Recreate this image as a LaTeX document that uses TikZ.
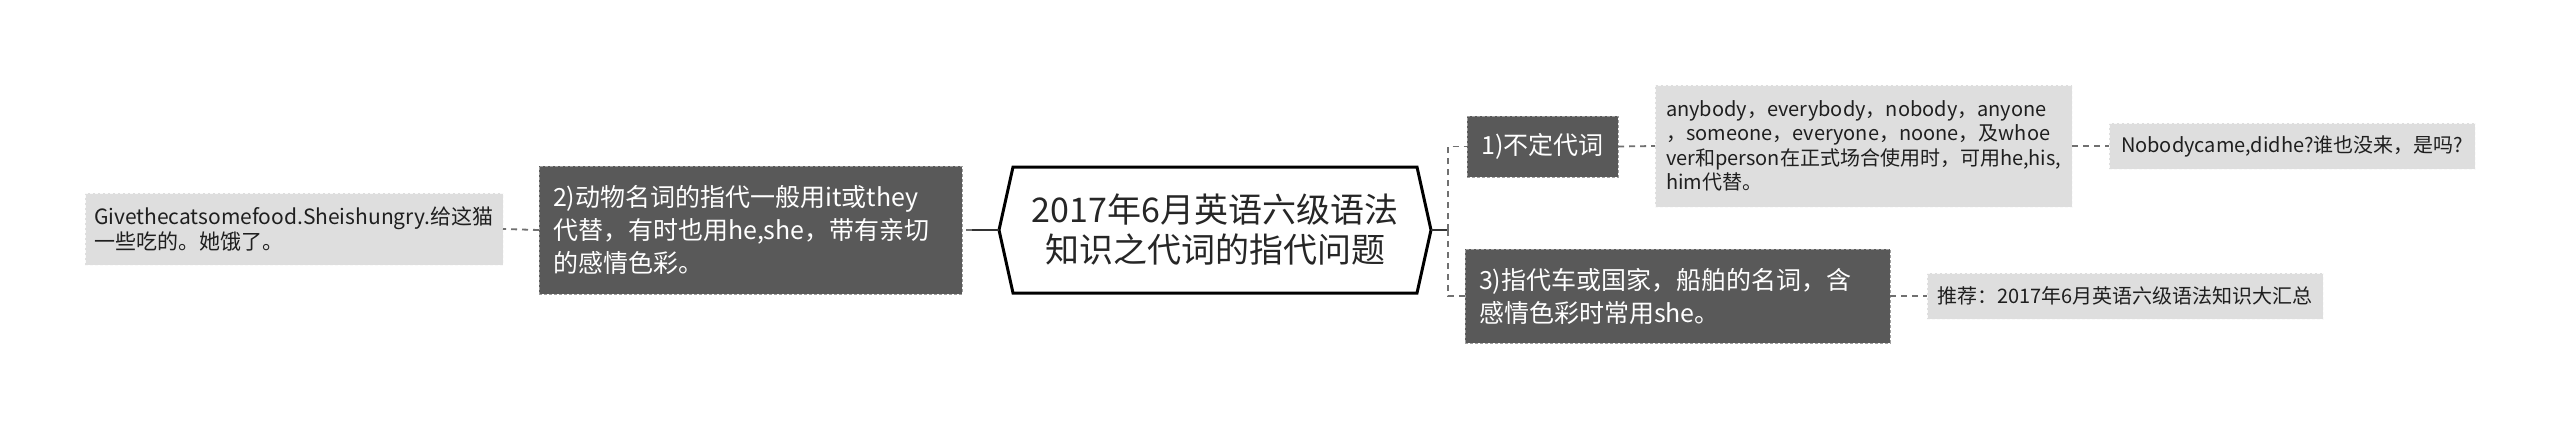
\documentclass[tikz,border=0pt]{standalone}
\usepackage{fontspec}
\setmainfont{Noto Sans CJK SC}
\usetikzlibrary{calc}
\definecolor{darkfill}{HTML}{595959}
\definecolor{lightfill}{HTML}{DEDEDE}
\definecolor{dashgray}{HTML}{707070}
\definecolor{rootink}{HTML}{262626}
\begin{document}
\begin{tikzpicture}[x=1pt,y=-1pt,
  darkbox/.style={fill=darkfill, draw=gray!75, dash pattern=on 3pt off 2pt, line width=0.8pt, text=white, inner xsep=14pt, inner ysep=0pt, outer sep=0pt, align=left, font=\fontsize{25}{33}\selectfont},
  lightbox/.style={fill=lightfill, draw=white!85!lightfill, dash pattern=on 3pt off 2pt, line width=0.8pt, text=black!88, inner xsep=10pt, inner ysep=0pt, outer sep=0pt, align=left, font=\fontsize{20}{24.5}\selectfont},
  rootnode/.style={inner sep=0pt, outer sep=0pt, align=center, text=rootink, font=\fontsize{34}{40}\selectfont, minimum width=432pt, minimum height=126pt},
  hexline/.style={draw=black, line width=3pt, line join=miter},
  rootline/.style={draw=black!80, line width=2pt},
  dashline/.style={draw=dashgray, line width=1.8pt, dash pattern=on 6pt off 5pt}
]
\useasboundingbox (0,0) rectangle (2560,429);
\fill[white] (0,0) rectangle (2560,429);

% root
\node[rootnode] (root) at (1215,230) {2017年6月英语六级语法\\知识之代词的指代问题};
\draw[hexline] (root.west) -- ($(root.north west)+(14,0)$) -- ($(root.north east)+(-14,0)$) -- (root.east) -- ($(root.south east)+(-14,0)$) -- ($(root.south west)+(14,0)$) -- cycle;

% left side
\node[darkbox, text width=395pt, minimum height=128pt] (b2) at (750.5,230) {2)动物名词的指代一般用it或they\\代替，有时也用he,she，带有亲切\\的感情色彩。};
\node[lightbox, inner xsep=9pt, text width=400pt, minimum height=72pt, font=\fontsize{21}{25}\selectfont] (l) at (294,229) {Givethecatsomefood.Sheishungry.给这猫\\一些吃的。她饿了。};

% right side
\node[darkbox, align=center, inner xsep=0pt, minimum width=151pt, minimum height=61pt] (b1) at (1542.5,146.5) {1)不定代词};
\node[lightbox, inner xsep=11pt, text width=395pt, minimum height=122pt] (a) at (1863.5,146) {anybody，everybody，nobody，anyone\\，someone，everyone，noone，及whoe\\ver和person在正式场合使用时，可用he,his,\\him代替。};
\node[lightbox, inner xsep=12pt, text width=342pt, minimum height=46pt] (n) at (2292,146) {Nobodycame,didhe?谁也没来，是吗?};
\node[darkbox, text width=397pt, minimum height=94pt] (b3) at (1677.5,296) {3)指代车或国家，船舶的名词，含\\感情色彩时常用she。};
\node[lightbox, text width=376pt, minimum height=46pt] (r) at (2125,296) {推荐：2017年6月英语六级语法知识大汇总};

% connectors
\coordinate (jl) at (972,230);
\coordinate (jr) at (1448,230);
\draw[rootline] (root.west) -- (jl);
\draw[dashline] (jl) -- (b2.east);
\draw[dashline] (b2.west) -- (l.east);
\draw[rootline] (root.east) -- (jr);
\draw[dashline] (jr) |- (b1.west);
\draw[dashline] (jr) |- (b3.west);
\draw[dashline] (b1.east) -- (a.west);
\draw[dashline] (a.east) -- (n.west);
\draw[dashline] (b3.east) -- (r.west);
\end{tikzpicture}
\end{document}
